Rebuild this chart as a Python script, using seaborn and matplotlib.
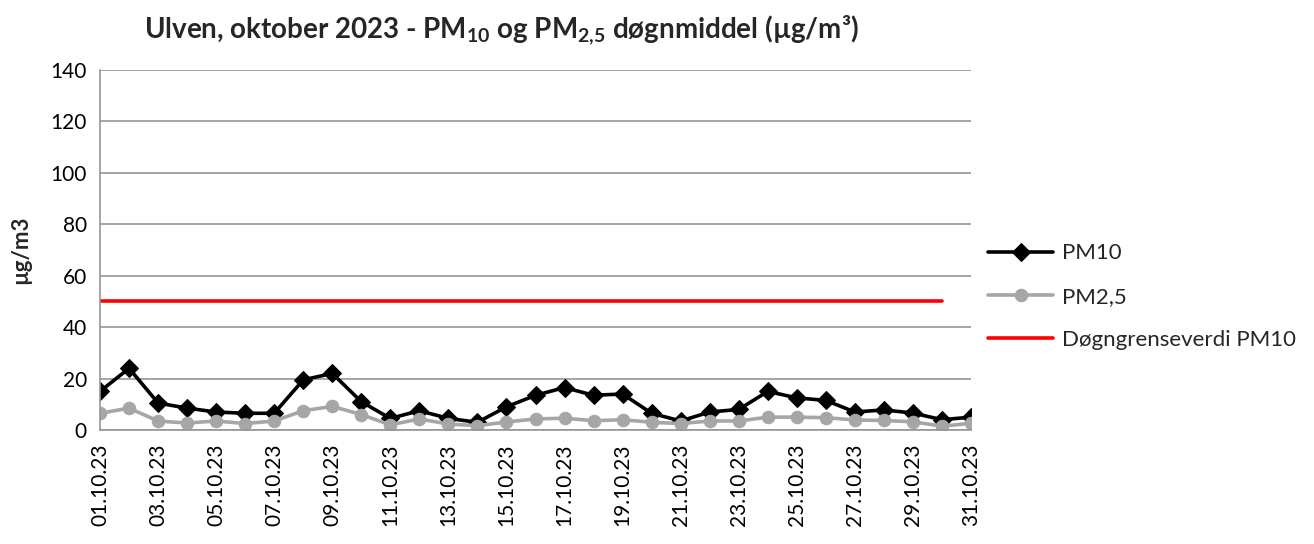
import pandas as pd
import matplotlib
matplotlib.use('Agg')
import matplotlib.pyplot as plt
import seaborn as sns

# Values (µg/m3)
dates = ['%02d.10.23' % d for d in range(1, 32)]
pm10 = [15, 24, 10.5, 8.5, 7, 6.5, 6.5, 19.5, 22, 11, 4.5,
        7.5, 4.5, 3, 9, 13.5, 16.5, 13.5, 14, 6.5, 3.5,
        7, 8, 15, 12.5, 11.5, 7, 7.8, 6.6, 4, 5]
pm25 = [6.5, 8.5, 3.5, 2.7, 3.5, 2.5, 3.5, 7.5, 9.2, 6, 2,
        4.3, 2.3, 1.7, 3.1, 4.3, 4.6, 3.6, 4, 3, 2.5,
        3.5, 3.5, 5, 5, 4.8, 3.9, 3.7, 3.2, 1.5, 2.6]
limit = [50] * 30  # limit series stops at 30.10

sns.set_style('white')
plt.rcParams['font.family'] = ['Lato', 'DejaVu Sans']
plt.rcParams['mathtext.fontset'] = 'custom'
plt.rcParams['mathtext.rm'] = 'Lato:bold'
plt.rcParams['mathtext.bf'] = 'Lato:bold'

df = pd.DataFrame({'dato': dates, 'PM10': pm10, 'PM2,5': pm25})
df['x'] = range(len(dates))
lim = pd.DataFrame({'x': range(len(limit)), 'v': limit})

fig = plt.figure(figsize=(13.14, 5.44), dpi=100)
ax = fig.add_axes([100 / 1314, 1 - 430 / 544, 871 / 1314, 360 / 544])

sns.lineplot(data=df, x='x', y='PM10', ax=ax, color='black', lw=2.6,
             marker='D', markersize=9, markeredgecolor='black', label='PM10')
sns.lineplot(data=df, x='x', y='PM2,5', ax=ax, color='#a6a6a6', lw=2.6,
             marker='o', markersize=9, markeredgecolor='#a6a6a6', label='PM2,5')
sns.lineplot(data=lim, x='x', y='v', ax=ax, color='#ff0000', lw=2.6,
             label='Døgngrenseverdi PM10')

ax.set_ylim(0, 140)
ax.set_yticks(range(0, 141, 20))
ax.set_xlim(0, len(dates) - 1)
ax.set_xticks(range(0, len(dates), 2))
ax.set_xticklabels(dates[::2], rotation=90)
ax.tick_params(axis='both', labelsize=15, colors='black')
ax.tick_params(axis='x', direction='out', length=6, color='#808080', width=1.2)
ax.tick_params(axis='y', direction='out', length=6, color='#808080', width=1.2)
ax.grid(axis='y', color='#969696', lw=1.2)
for s in ['top', 'right']:
    ax.spines[s].set_visible(False)
for s in ['left', 'bottom']:
    ax.spines[s].set_color('#969696')
    ax.spines[s].set_linewidth(1.2)
ax.set_xlabel('')
ax.set_ylabel('µg/m3', fontsize=16, fontweight='bold', labelpad=14)

fig.text(0.382, 0.945,
         r'Ulven, oktober 2023 - PM$_{10}$ og PM$_{2{,}5}$ døgnmiddel (µg/m³)',
         ha='center', va='center', fontsize=20, fontweight='bold')

ax.legend(loc='center left', bbox_to_anchor=(0.997, 0.37), frameon=False,
          fontsize=16, handlelength=2.9, labelspacing=1.05, handletextpad=0.4)

fig.savefig('out.png', dpi=100)
